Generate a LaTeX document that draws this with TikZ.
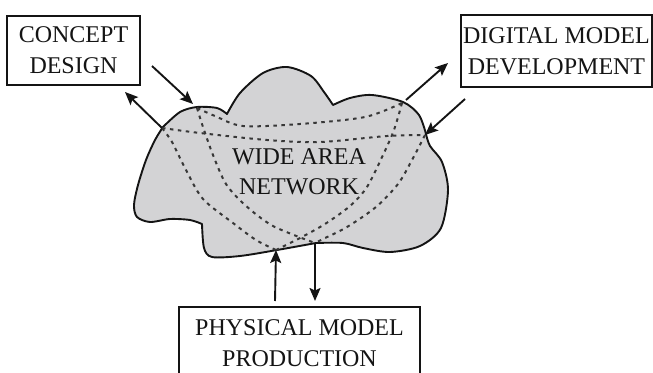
\documentclass[tikz,border=0pt]{standalone}
\usepackage{fontspec}
\setmainfont{Liberation Serif}
\usetikzlibrary{arrows.meta}
\definecolor{cloudgray}{RGB}{211,211,213}
\definecolor{ink}{RGB}{20,20,20}
\tikzset{
  boxnode/.style={draw=ink, line width=1.9pt, align=center, inner sep=0pt,
    font=\fontsize{24}{31}\selectfont, text=ink},
  cloudline/.style={draw=ink, fill=cloudgray, line width=1.9pt, line join=round},
  link/.style={draw=ink!85, line width=2pt, dash pattern=on 3.5pt off 4.5pt},
  flow/.style={draw=ink, line width=1.9pt, -{Stealth[length=13pt,width=11pt,inset=2.5pt]}},
  label/.style={align=center, inner sep=0pt, font=\fontsize{24}{30}\selectfont, text=ink}
}
\begin{document}
\begin{tikzpicture}[x=1pt,y=-1pt]
\useasboundingbox (0,0) rectangle (653,372);
\clip (0,0) rectangle (653,372);

% the network cloud
\path[cloudline]
  plot[smooth] coordinates {(163,127) (180,112) (197,107) (217,108) (227,114)}
  -- plot[smooth] coordinates {(227,114) (240,93) (263,73) (287,67) (311,76) (324,92) (333,105)}
  -- plot[smooth] coordinates {(333,105) (350,98) (372,95) (403,102) (419,115) (426,134)}
  -- plot[smooth] coordinates {(426,134) (430,146) (442,162) (448,190) (441,228) (420,246) (390,252) (363,248) (343,243) (316,243)}
  -- plot[smooth] coordinates {(316,243) (277,250) (240,256) (212,257) (204,248) (202,224)}
  -- plot[smooth] coordinates {(202,224) (190,220) (170,219) (150,222) (137,217) (134,205) (138,185) (146,160) (155,140) (163,127)}
  -- cycle;

% access points on the cloud edge
\coordinate (A) at (197,108);
\coordinate (B) at (162,128);
\coordinate (C) at (402,103);
\coordinate (D) at (425,135);
\coordinate (E) at (276,250);
\coordinate (F) at (315,243);

% network links
\draw[link] plot[smooth] coordinates {(A) (215,116) (243,126) (300,124) (365,117) (C)};
\draw[link] plot[smooth] coordinates {(B) (200,133) (267,140) (320,142) (387,136) (D)};
\draw[link] plot[smooth] coordinates {(A) (203,127) (213,155) (226,184) (245,205) (273,226) (F)};
\draw[link] plot[smooth] coordinates {(B) (172,142) (186,170) (203,199) (233,223) (256,240) (E)};
\draw[link] plot[smooth] coordinates {(C) (394,130) (383,155) (367,187) (350,206) (325,224) (300,238) (E)};
\draw[link] plot[smooth] coordinates {(D) (412,160) (398,184) (376,207) (347,227) (323,239) (F)};

\node[label] (wan) at (299,172) {WIDE AREA\\NETWORK};

% sites
\node[boxnode, minimum width=133pt, minimum height=69pt] (concept) at (73.5,50.5) {CONCEPT\\DESIGN};
\node[boxnode, minimum width=191pt, minimum height=72pt] (digital) at (556.5,51) {DIGITAL MODEL\\DEVELOPMENT};
\node[boxnode, minimum width=241pt, inner ysep=13pt, anchor=north] (physical) at (299.5,306) {PHYSICAL MODEL\\PRODUCTION};

% data flows
\coordinate (c1) at (152,66);
\coordinate (c2) at (125,92);
\coordinate (d1) at (448,63);
\coordinate (d2) at (465,99);
\coordinate (p1) at (275,301);
\coordinate (p2) at (315,301);
\draw[flow] (c1) -- (193,104);
\draw[flow] (B) -- (c2);
\draw[flow] (406,100) -- (d1);
\draw[flow] (d2) -- (D);
\draw[flow] (p1) -- (E);
\draw[flow] (F) -- (p2);
\end{tikzpicture}
\end{document}
